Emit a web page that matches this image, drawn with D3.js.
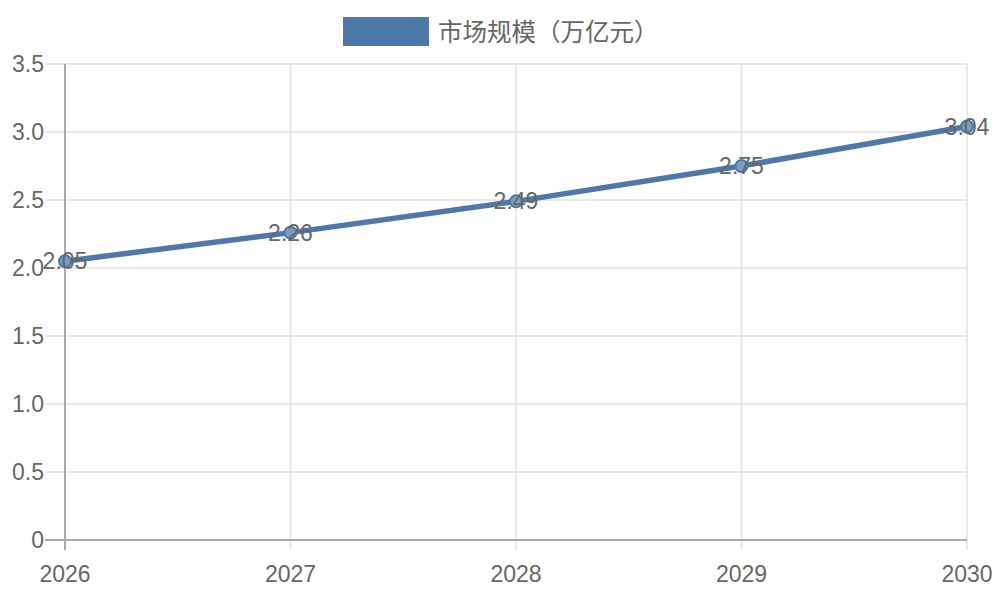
<!DOCTYPE html>
<html><head><meta charset="utf-8">
<script src="https://cdn.jsdelivr.net/npm/d3@7"></script>
<style>body{margin:0;background:#fff}svg{display:block}text{font-family:"Liberation Sans",Arial,sans-serif}</style>
</head><body>
<svg id="c" width="1000" height="600"></svg>
<script>
const years = ["2026","2027","2028","2029","2030"];
const values = [2.05, 2.26, 2.49, 2.75, 3.04];
const yTicks = [0, 0.5, 1.0, 1.5, 2.0, 2.5, 3.0, 3.5];
const seriesName = "市场规模（万亿元）";
const color = "#4e78a7";
const textColor = "#666";

const svg = d3.select("#c");
const x = d3.scalePoint().domain(years).range([65, 967]);
const y = d3.scaleLinear().domain([0, 3.5]).range([540, 64]);

// grid
svg.append("g").selectAll("line").data(yTicks).join("line")
  .attr("x1", 45).attr("x2", 967).attr("y1", d => y(d)).attr("y2", d => y(d))
  .attr("stroke", "#e0e0e0").attr("stroke-width", 1.5);
svg.append("g").selectAll("line").data(years).join("line")
  .attr("x1", d => x(d)).attr("x2", d => x(d)).attr("y1", 64).attr("y2", 550)
  .attr("stroke", "#e0e0e0").attr("stroke-width", 1.5);

// axes lines
svg.append("line").attr("x1", 65).attr("x2", 65).attr("y1", 64).attr("y2", 550).attr("stroke", "#aaa").attr("stroke-width", 2);
svg.append("line").attr("x1", 45).attr("x2", 967).attr("y1", 540).attr("y2", 540).attr("stroke", "#aaa").attr("stroke-width", 2);

// y labels
svg.append("g").selectAll("text").data(yTicks).join("text")
  .attr("x", 44).attr("y", d => y(d)).attr("dy", "0.35em").attr("text-anchor", "end")
  .attr("font-size", 23).attr("fill", textColor)
  .text(d => d === 0 ? "0" : d3.format(".1f")(d));
// x labels
svg.append("g").selectAll("text").data(years).join("text")
  .attr("x", d => x(d)).attr("y", 574).attr("dy", "0.35em").attr("text-anchor", "middle")
  .attr("font-size", 23).attr("fill", textColor).text(d => d);

// line
const data = years.map((yr, i) => ({yr, v: values[i]}));
svg.append("path").datum(data)
  .attr("d", d3.line().x(d => x(d.yr)).y(d => y(d.v)))
  .attr("fill", "none").attr("stroke", color).attr("stroke-width", 5.5);
svg.append("g").selectAll("circle").data(data).join("circle")
  .attr("cx", d => x(d.yr)).attr("cy", d => y(d.v)).attr("r", 6)
  .attr("fill", "#7a9cc4").attr("stroke", color).attr("stroke-width", 2);
svg.append("g").selectAll("text").data(data).join("text")
  .attr("x", d => x(d.yr)).attr("y", d => y(d.v)).attr("dy", "0.35em").attr("text-anchor", "middle")
  .attr("font-size", 23).attr("fill", textColor).text(d => d3.format(".2f")(d.v));

// legend
svg.append("rect").attr("x", 343).attr("y", 17).attr("width", 86).attr("height", 29).attr("fill", color);
svg.append("text").attr("x", 438).attr("y", 32).attr("dy", "0.35em")
  .attr("font-size", 24.5).attr("fill", textColor)
  .style("font-family", "'Noto Sans CJK SC','Liberation Sans',sans-serif").text(seriesName);
</script>
</body></html>
